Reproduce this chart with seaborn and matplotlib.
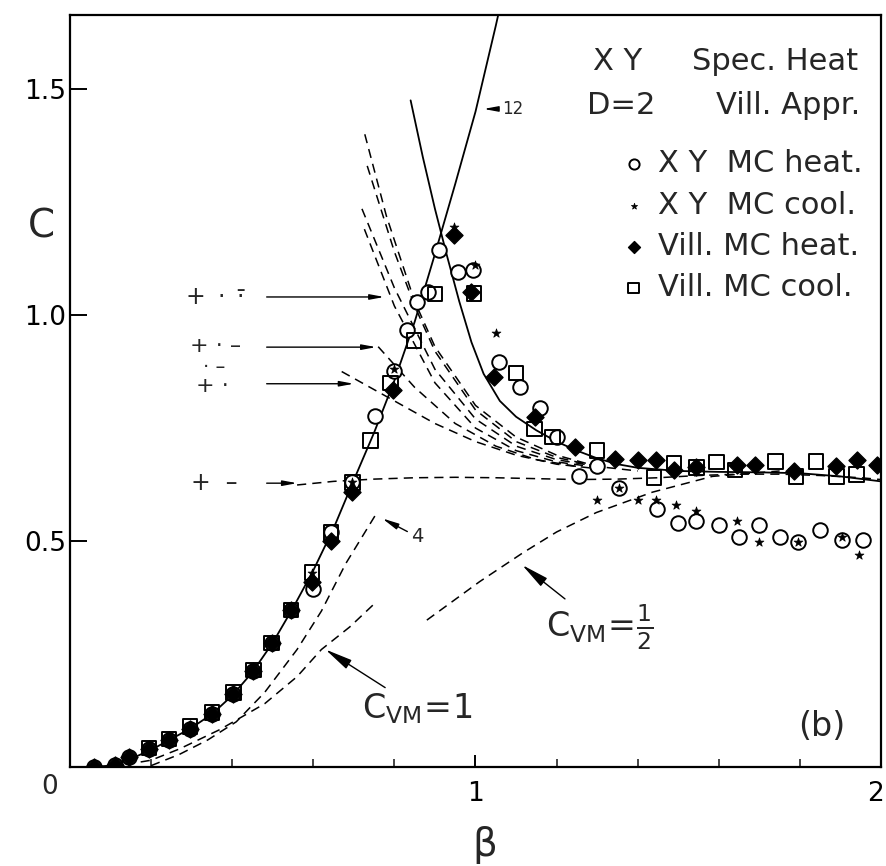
import matplotlib
matplotlib.use("Agg")
import matplotlib.pyplot as plt
import matplotlib.transforms as mtransforms
import seaborn as sns
import pandas as pd

# ---------------- data ----------------
# Monte Carlo points
xy_heat_beta = [0.058, 0.11, 0.145, 0.195, 0.244, 0.296, 0.35, 0.403, 0.452, 0.497, 0.545, 0.60, 0.644,
                0.696, 0.753, 0.799, 0.831, 0.855, 0.883, 0.91, 0.958, 0.995, 1.058, 1.11, 1.158, 1.20,
                1.256, 1.30, 1.355, 1.447, 1.50, 1.545, 1.60, 1.65, 1.70, 1.75, 1.795, 1.85, 1.905, 1.955]
xy_heat_c = [0.0, 0.004, 0.022, 0.04, 0.06, 0.085, 0.117, 0.162, 0.213, 0.274, 0.347, 0.394, 0.519,
             0.63, 0.777, 0.877, 0.966, 1.028, 1.05, 1.145, 1.095, 1.10, 0.897, 0.84, 0.795, 0.73,
             0.643, 0.665, 0.617, 0.57, 0.54, 0.545, 0.536, 0.508, 0.535, 0.509, 0.498, 0.525, 0.503, 0.503]

xy_cool_beta = [0.11, 0.195, 0.296, 0.403, 0.497, 0.597, 0.696, 0.80, 0.946, 1.0, 1.05, 1.30, 1.355,
                1.40, 1.445, 1.495, 1.545, 1.645, 1.70, 1.795, 1.905, 1.945]
xy_cool_c = [0.004, 0.04, 0.085, 0.162, 0.274, 0.43, 0.63, 0.88, 1.195, 1.11, 0.96, 0.59, 0.617,
             0.59, 0.59, 0.58, 0.567, 0.545, 0.497, 0.498, 0.51, 0.47]

vill_heat_beta = [0.058, 0.11, 0.145, 0.195, 0.244, 0.296, 0.35, 0.403, 0.452, 0.497, 0.545, 0.597, 0.644,
                  0.696, 0.796, 0.946, 0.99, 1.045, 1.146, 1.245, 1.344, 1.40, 1.444, 1.49, 1.545, 1.645,
                  1.69, 1.785, 1.89, 1.94, 1.99]
vill_heat_c = [0.0, 0.004, 0.022, 0.04, 0.06, 0.085, 0.117, 0.162, 0.213, 0.274, 0.347, 0.41, 0.50,
               0.608, 0.835, 1.177, 1.05, 0.864, 0.775, 0.708, 0.682, 0.68, 0.68, 0.657, 0.663, 0.668,
               0.669, 0.654, 0.665, 0.68, 0.668]

vill_cool_beta = [0.195, 0.244, 0.296, 0.35, 0.403, 0.452, 0.497, 0.545, 0.597, 0.644, 0.696, 0.741, 0.79,
                  0.848, 0.90, 0.996, 1.10, 1.146, 1.19, 1.30, 1.44, 1.49, 1.545, 1.595, 1.64, 1.74,
                  1.79, 1.84, 1.89, 1.94]
vill_cool_c = [0.042, 0.062, 0.09, 0.12, 0.165, 0.215, 0.274, 0.347, 0.43, 0.519, 0.63, 0.722, 0.85,
               0.944, 1.047, 1.048, 0.872, 0.748, 0.73, 0.70, 0.64, 0.673, 0.663, 0.675, 0.657, 0.676,
               0.643, 0.676, 0.643, 0.647]

# Solid curves
rise12_beta = [0.05, 0.1, 0.15, 0.2, 0.25, 0.3, 0.35, 0.4, 0.45, 0.5, 0.55, 0.6, 0.65, 0.7, 0.75, 0.8,
               0.85, 0.9, 0.95, 1.0, 1.05, 1.06]
rise12_c = [0.0, 0.003, 0.018, 0.038, 0.062, 0.087, 0.117, 0.158, 0.21, 0.275, 0.352, 0.435, 0.528,
            0.635, 0.74, 0.855, 0.985, 1.135, 1.29, 1.45, 1.64, 1.68]
fall_beta = [0.84, 0.87, 0.9, 0.93, 0.96, 0.99, 1.02, 1.06, 1.1, 1.15, 1.2, 1.25, 1.3, 1.35, 1.4, 1.5,
             1.6, 1.7, 1.8, 1.9, 2.0]
fall_c = [1.475, 1.35, 1.235, 1.13, 1.03, 0.94, 0.87, 0.81, 0.775, 0.745, 0.72, 0.70, 0.683, 0.67,
          0.662, 0.655, 0.653, 0.652, 0.65, 0.643, 0.632]

# Dashed curves (approximation orders)
d1_beta = [0.727, 0.78, 0.85, 0.9, 1.0, 1.1, 1.2, 1.3, 1.4]
d1_c = [1.40, 1.22, 1.03, 0.93, 0.80, 0.73, 0.69, 0.665, 0.655]
d2_beta = [0.733, 0.8, 0.85, 0.9, 1.0, 1.1, 1.2, 1.3]
d2_c = [1.33, 1.14, 1.02, 0.92, 0.79, 0.72, 0.685, 0.665]
d3_beta = [0.72, 0.8, 0.9, 1.0, 1.1, 1.2, 1.3]
d3_c = [1.235, 1.06, 0.88, 0.77, 0.71, 0.68, 0.665]
d4_beta = [0.726, 0.8, 0.9, 1.0, 1.1, 1.2, 1.3]
d4_c = [1.19, 1.02, 0.85, 0.75, 0.70, 0.675, 0.663]
d5_beta = [0.76, 0.85, 0.95, 1.05, 1.15, 1.25]
d5_c = [0.93, 0.84, 0.76, 0.71, 0.68, 0.665]
d6_beta = [0.67, 0.8, 0.9, 1.0, 1.1, 1.2, 1.3]
d6_c = [0.875, 0.81, 0.76, 0.72, 0.69, 0.67, 0.66]
flat_beta = [0.56, 0.65, 0.75, 0.85, 0.95, 1.05, 1.15, 1.25, 1.35, 1.45, 1.55, 1.65, 1.75, 1.85, 1.95, 2.0]
flat_c = [0.624, 0.632, 0.637, 0.64, 0.641, 0.64, 0.638, 0.636, 0.637, 0.64, 0.645, 0.648, 0.648, 0.645,
          0.64, 0.636]
order4_beta = [0.2, 0.27, 0.34, 0.41, 0.48, 0.56, 0.62, 0.68, 0.755]
order4_c = [0.003, 0.028, 0.06, 0.10, 0.165, 0.26, 0.345, 0.45, 0.56]
cvm1_beta = [0.1, 0.2, 0.27, 0.37, 0.48, 0.56, 0.62, 0.69, 0.755]
cvm1_c = [0.0, 0.015, 0.04, 0.083, 0.14, 0.2, 0.26, 0.31, 0.365]
cvm_half_beta = [0.88, 1.01, 1.117, 1.2, 1.298, 1.436, 1.584, 1.75]
cvm_half_c = [0.325, 0.41, 0.474, 0.52, 0.563, 0.608, 0.643, 0.655]

y_ticks = [0.5, 1.0, 1.5]
y_tick_labels = ["0.5", "1.0", "1.5"]
x_ticks = [1, 2]
x_tick_labels = ["1", "2"]
series_labels = ["X Y  MC heat.", "X Y  MC cool.", "Vill. MC heat.", "Vill. MC cool."]

# ---------------- figure ----------------
sns.set_theme(style="ticks")
plt.rcParams["font.family"] = ["DejaVu Sans"]
plt.rcParams["mathtext.fontset"] = "dejavusans"

W, H = 887, 866
fig = plt.figure(figsize=(W / 100, H / 100), dpi=100)
fig.patch.set_facecolor("white")
ax = fig.add_axes([70 / W, 1 - 767 / H, 811 / W, 752.5 / H])
ax.set_facecolor("white")

K = "black"
solid_kw = dict(color=K, linewidth=1.3, estimator=None, sort=False, legend=False, ax=ax)
dash_kw = dict(color=K, linewidth=1.1, estimator=None, sort=False, legend=False, ax=ax)

sns.lineplot(x=rise12_beta, y=rise12_c, **solid_kw)
sns.lineplot(x=fall_beta, y=fall_c, **solid_kw)
for bx, cy in [(d1_beta, d1_c), (d2_beta, d2_c), (d3_beta, d3_c), (d4_beta, d4_c), (d5_beta, d5_c),
               (d6_beta, d6_c), (flat_beta, flat_c), (order4_beta, order4_c), (cvm1_beta, cvm1_c),
               (cvm_half_beta, cvm_half_c)]:
    sns.lineplot(x=bx, y=cy, **dash_kw)
    ax.lines[-1].set_dashes((6, 4))

sns.scatterplot(x=xy_heat_beta, y=xy_heat_c, marker="o", s=110, facecolor="white", edgecolor=K,
                linewidth=1.4, ax=ax, label=series_labels[0], zorder=5)
sns.scatterplot(x=xy_cool_beta, y=xy_cool_c, marker="*", s=45, color=K, edgecolor=K, linewidth=0.5,
                ax=ax, label=series_labels[1], zorder=6)
sns.scatterplot(x=vill_heat_beta, y=vill_heat_c, marker="D", s=75, color=K, edgecolor=K, linewidth=1,
                ax=ax, label=series_labels[2], zorder=7)
sns.scatterplot(x=vill_cool_beta, y=vill_cool_c, marker="s", s=110, facecolor="none", edgecolor=K,
                linewidth=1.4, ax=ax, label=series_labels[3], zorder=8)

ax.set_xlim(0, 2)
ax.set_ylim(0, 1.665)
ax.set_xticks(x_ticks)
ax.set_xticklabels(x_tick_labels)
ax.set_xticks([0.2, 0.4, 0.6, 0.8, 1.2, 1.4, 1.6, 1.8], minor=True)
ax.set_yticks(y_ticks)
ax.set_yticklabels(y_tick_labels)
ax.tick_params(axis="both", which="major", direction="in", colors=K, labelsize=19, width=1.4)
ax.tick_params(axis="y", which="major", length=12, pad=3)
ax.tick_params(axis="x", which="major", length=9, pad=10)
ax.tick_params(axis="x", which="minor", direction="in", length=6, width=1.2)
for s in ax.spines.values():
    s.set_visible(True)
    s.set_linewidth(1.6)
    s.set_color(K)
# keep the "2" label just inside the picture
lab2 = ax.get_xticklabels()[1]
lab2.set_transform(lab2.get_transform() + mtransforms.ScaledTranslation(-5 / 100, 0, fig.dpi_scale_trans))

ax.text(-0.05, -0.045, "0", fontsize=19, ha="center", va="center", clip_on=False)
ax.set_xlabel("β", fontsize=28, va="center")
ax.xaxis.set_label_coords((485 - 70) / 811, (767 - 845) / 752.5)
ax.set_ylabel("C", fontsize=28, rotation=0, va="center", ha="center")
ax.yaxis.set_label_coords((41 - 70) / 811, (767 - 226) / 752.5)

# legend
leg = ax.legend(loc="upper right", bbox_to_anchor=(1.0, 0.845), frameon=False, fontsize=22,
                handletextpad=0.3, labelspacing=0.4, borderaxespad=0.2, handlelength=1.0,
                markerscale=0.7)

# header texts
hy1 = (767 - 62) / 752.5
hy2 = (767 - 105) / 752.5
ax.text((593 - 70) / 811, hy1, "X Y", transform=ax.transAxes, fontsize=22, ha="left", va="center")
ax.text((858 - 70) / 811, hy1, "Spec. Heat", transform=ax.transAxes, fontsize=22, ha="right",
        va="center")
ax.text((587 - 70) / 811, hy2, "D=2", transform=ax.transAxes, fontsize=22, ha="left", va="center")
ax.text((860 - 70) / 811, hy2, "Vill. Appr.", transform=ax.transAxes, fontsize=22, ha="right",
        va="center")
ax.text(1.855, 0.09, "(b)", fontsize=24, ha="center", va="center")

# annotations
arrow = dict(arrowstyle="-|>,head_length=0.7,head_width=0.13", color=K, lw=1.0, shrinkA=0, shrinkB=0)
ax.annotate("12", xy=(1.02, 1.456), xytext=(1.065, 1.456), fontsize=12, va="center", ha="left",
            arrowprops=arrow)
ax.annotate("4", xy=(0.77, 0.55), xytext=(0.84, 0.51), fontsize=14, va="center", ha="left",
            arrowprops=arrow)
ax.annotate(r"$\mathsf{C}_{\mathsf{VM}}\!=\!1$", xy=(0.63, 0.26), xytext=(0.72, 0.13), fontsize=24,
            va="center", ha="left", arrowprops=arrow)
ax.annotate(r"$\mathsf{C}_{\mathsf{VM}}\!=\!\frac{1}{2}$", xy=(1.115, 0.447), xytext=(1.175, 0.31),
            fontsize=24, va="center", ha="left", arrowprops=arrow)

ax.annotate("", xy=(0.775, 1.04), xytext=(0.485, 1.04), arrowprops=arrow)
ax.text(0.36, 1.04, r"$+\ \cdot\ \bar{\cdot}$", fontsize=17, ha="center", va="center")
ax.annotate("", xy=(0.755, 0.929), xytext=(0.485, 0.929), arrowprops=arrow)
ax.text(0.36, 0.931, "+ · –", fontsize=16, ha="center", va="center")
ax.annotate("", xy=(0.70, 0.848), xytext=(0.485, 0.848), arrowprops=arrow)
ax.text(0.355, 0.884, "· –", fontsize=14, ha="center", va="center")
ax.text(0.35, 0.843, "+ ·", fontsize=16, ha="center", va="center")
ax.annotate("", xy=(0.56, 0.628), xytext=(0.485, 0.628), arrowprops=arrow)
ax.text(0.355, 0.628, "+  –", fontsize=17, ha="center", va="center")

fig.savefig("out.png", dpi=100, facecolor="white")
